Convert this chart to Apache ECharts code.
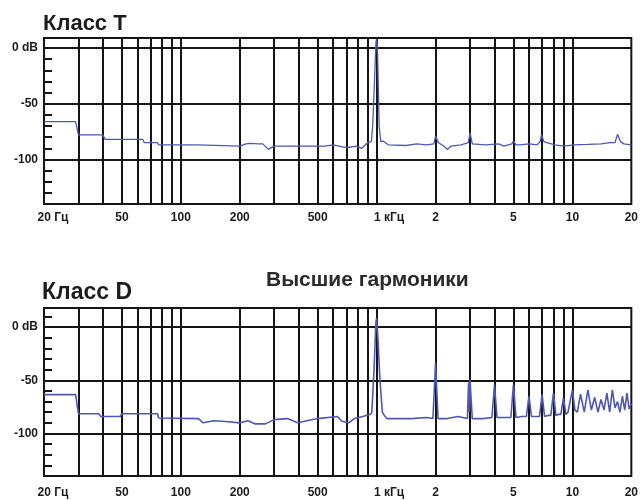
<!DOCTYPE html>
<html>
<head>
<meta charset="utf-8">
<script src="https://cdn.jsdelivr.net/npm/echarts@6/dist/echarts.min.js"></script>
<style>
html,body{margin:0;padding:0;background:#fff;}
#c{width:641px;height:500px;}
</style>
</head>
<body>
<div id="c"></div>
<script>
// ---- data ----
const titleT = 'Класс T';
const titleD = 'Класс D';
const titleH = 'Высшие гармоники';

const xTickValues = [20, 50, 100, 200, 500, 1000, 2000, 5000, 10000, 20000];
const xTickLabels = ['20 Гц', '50', '100', '200', '500', '1 кГц', '2', '5', '10', '20'];
const xGridValues = [30, 40, 50, 60, 70, 80, 90, 100, 200, 300, 400, 500, 600, 700, 800, 900,
                     1000, 2000, 3000, 4000, 5000, 6000, 7000, 8000, 9000, 10000];
const yTickValues = [0, -50, -100];
const yTickLabels = ['0 dB', '-50', '-100'];
const yMinorT = [-10, -20, -30, -40, -60, -70, -80, -90, -110, -120, -130];
const yMinorD = [10, -10, -20, -30, -40, -60, -70, -80, -90, -110, -120, -130];

// Класс T spectrum
const freqT = [20, 29, 30, 40, 41, 64, 65, 76, 77, 122,
               123, 200, 215, 225, 250, 262, 280, 300, 400, 500,
               545, 600, 700, 790, 840, 900, 940, 955, 975, 992,
               1000, 1010, 1030, 1050, 1080, 1150, 1420, 1600, 1800, 1960,
               2000, 2070, 2200, 2300, 2400, 2700, 2940, 3000, 3080, 3600,
               4200, 4470, 4900, 5000, 5150, 5400, 6000, 6600, 6850, 6950,
               7150, 7400, 8150, 9000, 10200, 12000, 14000, 15600, 16500, 17000,
               17600, 18300, 20000];
const dbT   = [-66, -66, -78, -78, -82, -82, -85, -85, -87, -87,
               -88, -88, -86, -85.5, -86, -86, -91, -88, -88, -88,
               -88, -87, -89.5, -88, -90, -85, -84, -70, -30, 5,
               8, 0, -70, -84, -83.5, -87, -87.5, -86, -87, -86,
               -79, -85, -88, -91, -88, -87, -85, -76, -86, -87,
               -86, -88, -86, -83.5, -87, -87, -86, -87, -84, -77.5,
               -84, -85, -87, -88, -87, -86.5, -86, -85, -85, -77.5,
               -84, -86, -87];

// Класс D spectrum
const freqD = [20, 29, 30, 38, 39, 49, 50, 76, 77, 123,
               130, 147, 164, 200, 220, 240, 270, 300, 350, 395,
               440, 500, 630, 665, 720, 770, 850, 930, 945, 970,
               992, 1000, 1012, 1040, 1070, 1095, 1130, 1500, 1800, 1940,
               2000, 2060, 2300, 2600, 2910, 2950, 2975, 3000, 3080, 3500,
               3880, 4000, 4120, 4500, 4850, 5000, 5150, 5500, 5820, 6000,
               6180, 6500, 6790, 7000, 7210, 7500, 7760, 8000, 8240, 8500,
               8730, 9000, 9270, 9500, 9700, 10000, 10300, 10600, 11000, 11500,
               12000, 12500, 13000, 13500, 14000, 14500, 15000, 15500, 16000, 16500,
               17000, 17500, 18000, 18500, 19000, 19500, 20000];
const dbD   = [-63.5, -63.5, -81.5, -81.5, -84, -84, -81.5, -81.5, -85.5, -86,
               -90, -88, -88.5, -90, -88, -91, -91, -87, -86, -90,
               -88, -86, -84, -88.5, -90, -86, -84, -82, -80, -40,
               5, 8.5, -5, -50, -80, -83, -86, -86, -85, -86,
               -33.5, -86, -86, -84, -86, -52, -80, -49.5, -86, -86,
               -85, -54, -85, -85, -85, -54, -85, -84, -84, -65,
               -84, -84, -84, -63.5, -84, -83, -83, -62, -83, -82,
               -82, -66.5, -82, -80, -80, -59, -78, -80, -63, -80,
               -59, -78, -66, -80, -68, -78, -62, -80, -59, -76,
               -70, -80, -65, -78, -62, -77, -72];

// ---- chart ----
const FONT = 'Liberation Sans, Arial, sans-serif';
const TXT = '#1c1c1c';
const GRIDC = '#151515';

function xLabel(v) {
  const i = xTickValues.indexOf(Math.round(v));
  if (i < 0) return '';
  const s = xTickLabels[i];
  const sp = s.indexOf(' ');
  if (sp > 0) {
    const unit = s.slice(sp);
    return (unit.length > 3 ? '{s2|\u00a0}' : '{s1|\u00a0}') + s;
  }
  return s;
}
function yLabel(v) {
  const i = yTickValues.indexOf(Math.round(v));
  return i < 0 ? '' : yTickLabels[i];
}

function xAxisCfg(gi, margin) {
  return {
    gridIndex: gi, type: 'log', logBase: 10, min: 20, max: 20000,
    axisLine: {show: false}, axisTick: {show: false},
    splitLine: {show: false}, minorSplitLine: {show: false},
    axisLabel: {
      customValues: xTickValues, formatter: xLabel, margin: margin,
      color: TXT, fontFamily: FONT, fontWeight: 'bold', fontSize: 12,
      rich: {s1: {width: 18}, s2: {width: 25}}
    }
  };
}
function yAxisCfg(gi, max, minors) {
  return {
    gridIndex: gi, type: 'value', min: -140, max: max,
    axisLine: {show: false}, splitLine: {show: false},
    axisTick: {show: true, inside: true, length: 8, customValues: minors,
               lineStyle: {color: GRIDC, width: 2}},
    axisLabel: {customValues: yTickValues, formatter: yLabel, margin: 6,
                color: TXT, fontFamily: FONT, fontWeight: 'bold', fontSize: 12}
  };
}
function gridLines() {
  return {
    z: 1, silent: true, symbol: ['none', 'none'], animation: false,
    label: {show: false},
    lineStyle: {type: 'solid', color: GRIDC, width: 2},
    emphasis: {disabled: true},
    data: xGridValues.map(v => ({xAxis: v})).concat(yTickValues.map(v => ({yAxis: v})))
  };
}
function spectrum(gi, fr, db, w) {
  return {
    type: 'line', xAxisIndex: gi, yAxisIndex: gi, z: 3,
    data: fr.map((f, i) => [f, db[i]]),
    showSymbol: false, symbol: 'none', animation: false, silent: true,
    lineStyle: {color: '#4d58b3', width: w},
    markLine: gridLines()
  };
}

const chart = echarts.init(document.getElementById('c'), null, {renderer: 'canvas'});
chart.setOption({
  backgroundColor: '#fff',
  animation: false,
  title: [
    {text: titleT, left: 43, top: 13, padding: 0,
     textStyle: {fontFamily: FONT, fontWeight: 'bold', fontSize: 22, color: TXT}},
    {text: titleD, left: 42, top: 281, padding: 0,
     textStyle: {fontFamily: FONT, fontWeight: 'bold', fontSize: 23, color: TXT}},
    {text: titleH, left: 266, top: 270, padding: 0,
     textStyle: {fontFamily: FONT, fontWeight: 'bold', fontSize: 21, color: '#2a2a2a'}}
  ],
  grid: [
    {left: 44, right: 4, top: 38, height: 166, show: true, borderColor: GRIDC, borderWidth: 2,
     backgroundColor: 'transparent'},
    {left: 44, right: 6, top: 308, height: 168, show: true, borderColor: GRIDC, borderWidth: 2,
     backgroundColor: 'transparent'}
  ],
  xAxis: [xAxisCfg(0, 8), xAxisCfg(1, 11)],
  yAxis: [yAxisCfg(0, 9, yMinorT), yAxisCfg(1, 18, yMinorD)],
  series: [spectrum(0, freqT, dbT, 1.3), spectrum(1, freqD, dbD, 1.6)]
});
</script>
</body>
</html>
